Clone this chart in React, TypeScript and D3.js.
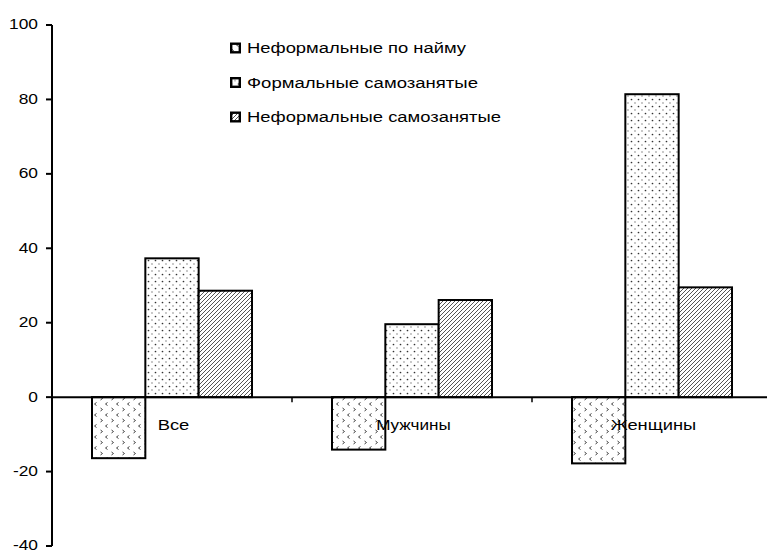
import React from "react";
import * as d3 from "d3";

const categories = ["Все", "Мужчины", "Женщины"];
const seriesNames = ["Неформальные по найму", "Формальные самозанятые", "Неформальные самозанятые"];
const informalHired = [-16.4, -14.1, -17.8];
const formalSelf = [37.3, 19.6, 81.4];
const informalSelf = [28.6, 26.1, 29.5];
const yTicks = [-40, -20, 0, 20, 40, 60, 80, 100];

const W = 767, H = 552;
const left = 52, right = 772, top = 25, bottom = 546;
const catWidths = [31.7, 74.7, 85.6];
const legendWidths = [219, 231, 254];

export default function App() {
  const x = d3.scaleBand<string>().domain(categories).range([left, right]).paddingInner(0).paddingOuter(0);
  const y = d3.scaleLinear().domain([-40, 100]).range([bottom, top]);
  const series = [informalHired, formalSelf, informalSelf];
  const inner = d3.scaleBand<number>().domain([0, 1, 2]).range([40, x.bandwidth() - 40]);
  const patterns = ["pChev", "pDots", "pHatch"];
  const font = "'Liberation Sans', Arial, sans-serif";

  return (
    <svg width={W} height={H} style={{ position: "absolute", left: 0, top: 0, background: "#fff" }} fontFamily={font}>
      <defs>
        <pattern id="pChev" width="11" height="11" patternUnits="userSpaceOnUse">
          <rect width="11" height="11" fill="#fff" />
          <path d="M1.5,1 L3.5,2.5 L1.5,4" fill="none" stroke="#444" strokeWidth="1" />
          <path d="M8.5,6.5 L6.5,8 L8.5,9.5" fill="none" stroke="#444" strokeWidth="1" />
        </pattern>
        <pattern id="pDots" width="7" height="7" patternUnits="userSpaceOnUse">
          <rect width="7" height="7" fill="#fff" />
          <circle cx="1.5" cy="1.5" r="0.85" fill="#333" />
          <circle cx="5" cy="5" r="0.65" fill="#666" />
        </pattern>
        <pattern id="pHatch" width="4" height="4" patternUnits="userSpaceOnUse">
          <rect width="4" height="4" fill="#fff" />
          <path d="M-1,1 L1,-1 M0,4 L4,0 M3,5 L5,3" stroke="#555" strokeWidth="1" />
        </pattern>
      </defs>

      {categories.map((c, ci) =>
        series.map((s, si) => {
          const v = s[ci];
          const bx = (x(c) as number) + (inner(si) as number);
          const y0 = y(Math.max(0, v));
          const y1 = y(Math.min(0, v));
          return (
            <rect key={c + si} x={bx} y={y0} width={inner.bandwidth()} height={y1 - y0}
              fill={`url(#${patterns[si]})`} stroke="#000" strokeWidth={2} />
          );
        })
      )}

      {/* zero line */}
      <line x1={left} x2={W} y1={y(0)} y2={y(0)} stroke="#000" strokeWidth={2} />
      {categories.slice(1).map((c) => (
        <line key={c} x1={x(c)} x2={x(c)} y1={y(0)} y2={y(0) + 5} stroke="#000" strokeWidth={1.5} />
      ))}

      {/* y axis */}
      <line x1={left} x2={left} y1={top} y2={bottom} stroke="#000" strokeWidth={2} />
      {yTicks.map((t) => (
        <g key={t}>
          <line x1={left - 6} x2={left} y1={y(t)} y2={y(t)} stroke="#000" strokeWidth={2} />
          <text transform={`translate(${left - 14},${y(t) - 1}) scale(1.12,1)`} dy="0.35em" textAnchor="end" fontSize={15.5}>{t}</text>
        </g>
      ))}

      {categories.map((c, i) => (
        <text key={c} x={(x(c) as number) + x.bandwidth() / 2 - catWidths[i] / 2 + 1.5} y={y(0) + 33}
          textLength={catWidths[i]} lengthAdjust="spacingAndGlyphs" fontSize={15.5}>{c}</text>
      ))}

      {seriesNames.map((n, i) => (
        <g key={n} transform={`translate(230, ${48 + i * 34.5})`}>
          <rect x={1.2} y={-4.3} width={8.6} height={8.6} fill={`url(#${patterns[i]})`} stroke="#000" strokeWidth={2.4} />
          <text x={17} y={0} dy="0.35em" fontSize={15.5} textLength={legendWidths[i]} lengthAdjust="spacingAndGlyphs">{n}</text>
        </g>
      ))}
    </svg>
  );
}
